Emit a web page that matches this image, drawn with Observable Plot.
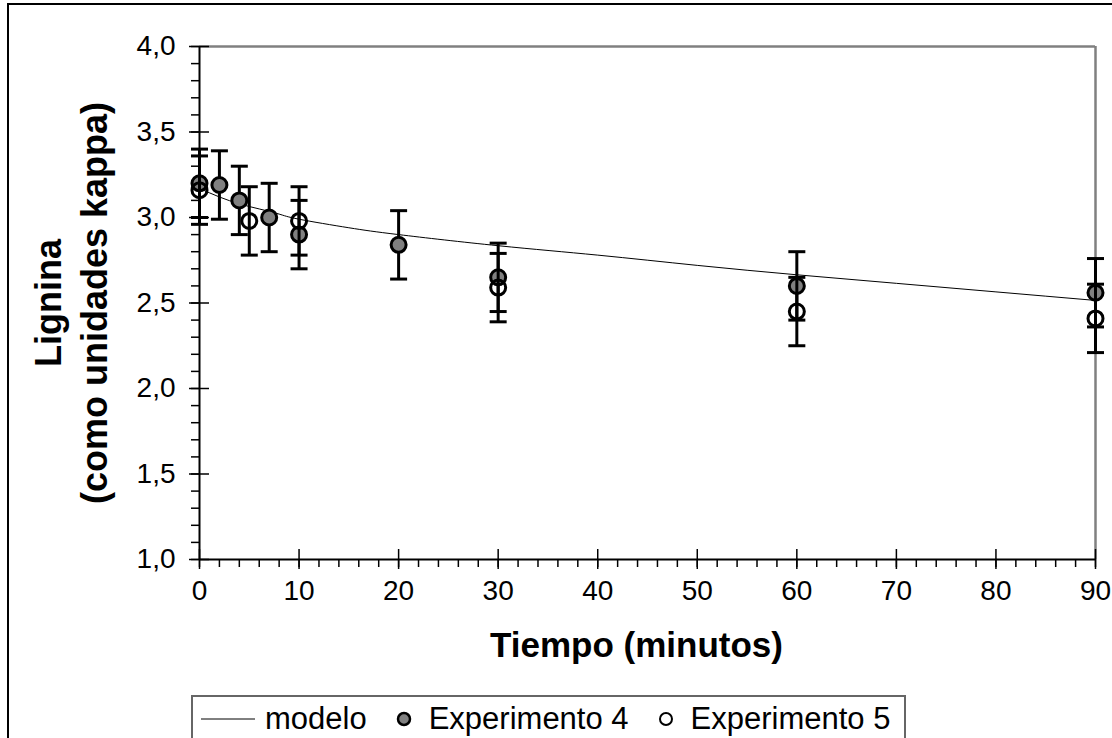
<!DOCTYPE html>
<html>
<head>
<meta charset="utf-8">
<script src="https://cdn.jsdelivr.net/npm/d3@7"></script>
<script src="https://cdn.jsdelivr.net/npm/@observablehq/plot@0.6"></script>
<style>
  html, body { margin: 0; padding: 0; background: #fff; overflow: hidden; width: 1112px; height: 738px; }
  #wrap { position: relative; width: 1112px; height: 738px; font-family: "Liberation Sans", Arial, sans-serif; }
  #outer { position: absolute; left: 7px; top: 3px; width: 1200px; height: 900px; border-left: 2px solid #000; border-top: 2px solid #000; pointer-events: none; }
  #chart { position: absolute; left: 0; top: 0; }
  #legend { position: absolute; left: 191px; top: 695px; width: 715px; height: 60px; border: 2px solid #666; box-sizing: border-box; background: #fff;
            display: flex; align-items: flex-start; padding-top: 5px; padding-left: 8px; font-size: 31px; line-height: 34px; color: #000; white-space: nowrap; }
  #legend .item { display: flex; align-items: center; margin-right: 28px; }
  #legend svg { margin-right: 16px; }
  #legend .item:first-child svg { margin-right: 8px; }
</style>
</head>
<body>
<div id="wrap">
  <div id="chart"></div>
  <div id="legend"></div>
  <div id="outer"></div>
</div>
<script>
// ---- data ----
const exp4Time  = [0, 2, 4, 7, 10, 20, 30, 60, 90];
const exp4Value = [3.20, 3.19, 3.10, 3.00, 2.90, 2.84, 2.65, 2.60, 2.56];
const exp4Err   = [0.2, 0.2, 0.2, 0.2, 0.2, 0.2, 0.2, 0.2, 0.2];

const exp5Time  = [0, 5, 10, 30, 60, 90];
const exp5Value = [3.16, 2.98, 2.98, 2.59, 2.45, 2.41];
const exp5Err   = [0.2, 0.2, 0.2, 0.2, 0.2, 0.2];

const modelTime  = [0, 2, 4, 6, 8, 10, 15, 20, 30, 40, 50, 60, 70, 80, 90];
const modelValue = [3.17, 3.12, 3.08, 3.05, 3.02, 2.99, 2.94, 2.90, 2.835, 2.78, 2.72, 2.665, 2.615, 2.565, 2.515];

const xTicks = [0, 10, 20, 30, 40, 50, 60, 70, 80, 90];
const xMinorTicks = d3.range(0, 91, 2);
const yTicks = [1.0, 1.5, 2.0, 2.5, 3.0, 3.5, 4.0];
const yMinorTicks = d3.range(10, 41, 1).map(v => v / 10);

const xLabel = "Tiempo (minutos)";
const yLabel1 = "Lignina";
const yLabel2 = "(como unidades kappa)";
const legendLabels = ["modelo", "Experimento 4", "Experimento 5"];

// ---- tables ----
const exp4 = exp4Time.map((t, i) => ({t, v: exp4Value[i], e: exp4Err[i]}));
const exp5 = exp5Time.map((t, i) => ({t, v: exp5Value[i], e: exp5Err[i]}));
const model = modelTime.map((t, i) => ({t, v: modelValue[i]}));
const caps = s => s.flatMap(d => [{t: d.t, v: d.v - d.e}, {t: d.t, v: d.v + d.e}]);

const capSymbol = {
  draw(context, size) {
    const r = Math.sqrt(size / Math.PI);
    context.moveTo(-r, 0);
    context.lineTo(r, 0);
  }
};
const fmt = d => d3.format(".1f")(d).replace(".", ",");

const chart = Plot.plot({
  width: 1112,
  height: 690,
  marginLeft: 199,
  marginRight: 17,
  marginTop: 46,
  marginBottom: 131,
  x: {domain: [0, 90]},
  y: {domain: [1, 4]},
  style: {fontFamily: "'Liberation Sans', Arial, sans-serif", background: "transparent", color: "#000"},
  marks: [
    Plot.ruleY([4], {stroke: "#808080", strokeWidth: 2.5}),
    Plot.ruleX([90], {stroke: "#808080", strokeWidth: 2.5}),
    Plot.axisY(yMinorTicks, {tickSize: 8, text: null, label: null, strokeWidth: 1.5}),
    Plot.axisY(yTicks, {tickSize: 20, dx: 10, text: null, label: null, strokeWidth: 1.5}),
    Plot.axisY(yTicks, {tickSize: 0, tickPadding: 24, tickFormat: fmt, fontSize: 28, label: null}),
    Plot.axisX(xMinorTicks, {tickSize: 8, text: null, label: null, strokeWidth: 1.5}),
    Plot.axisX(xTicks, {tickSize: 20, dy: -10, text: null, label: null, strokeWidth: 1.5}),
    Plot.axisX(xTicks, {tickSize: 0, tickPadding: 21, fontSize: 28, label: null}),
    Plot.ruleX([0], {stroke: "#000", strokeWidth: 2}),
    Plot.ruleY([1], {stroke: "#000", strokeWidth: 2}),
    Plot.text([xLabel], {frameAnchor: "bottom", dy: 97, dx: -11, fontSize: 35, fontWeight: "bold", fill: "#000"}),
    Plot.text([yLabel1], {frameAnchor: "left", textAnchor: "middle", dx: -150, rotate: -90, fontSize: 36, fontWeight: "bold", fill: "#000"}),
    Plot.text([yLabel2], {frameAnchor: "left", textAnchor: "middle", dx: -104, rotate: -90, fontSize: 36, fontWeight: "bold", fill: "#000"}),
    Plot.line(model, {x: "t", y: "v", curve: "natural", stroke: "#000", strokeWidth: 1}),
    Plot.ruleX(exp4, {x: "t", y1: d => d.v - d.e, y2: d => d.v + d.e, stroke: "#000", strokeWidth: 3}),
    Plot.dot(caps(exp4), {x: "t", y: "v", symbol: capSymbol, r: 8.5, stroke: "#000", strokeWidth: 3, fill: "none"}),
    Plot.dot(exp4, {x: "t", y: "v", r: 7.5, fill: "#808080", stroke: "#000", strokeWidth: 3}),
    Plot.ruleX(exp5, {x: "t", y1: d => d.v - d.e, y2: d => d.v + d.e, stroke: "#000", strokeWidth: 3}),
    Plot.dot(caps(exp5), {x: "t", y: "v", symbol: capSymbol, r: 8.5, stroke: "#000", strokeWidth: 3, fill: "none"}),
    Plot.dot(exp5, {x: "t", y: "v", r: 7.5, fill: "none", stroke: "#000", strokeWidth: 3})
  ]
});
document.getElementById("chart").appendChild(chart);

// ---- legend ----
const legend = d3.select("#legend");
const swatches = [
  svg => svg.append("line").attr("x1", 0).attr("x2", 54).attr("y1", 10).attr("y2", 10).attr("stroke", "#000").attr("stroke-width", 1),
  svg => svg.append("circle").attr("cx", 9).attr("cy", 10).attr("r", 6).attr("fill", "#808080").attr("stroke", "#000").attr("stroke-width", 2.5),
  svg => svg.append("circle").attr("cx", 9).attr("cy", 10).attr("r", 6).attr("fill", "none").attr("stroke", "#000").attr("stroke-width", 2)
];
legendLabels.forEach((lab, i) => {
  const item = legend.append("div").attr("class", "item");
  const svg = item.append("svg").attr("width", i === 0 ? 56 : 18).attr("height", 20);
  swatches[i](svg);
  item.append("span").text(lab);
});
</script>
</body>
</html>
